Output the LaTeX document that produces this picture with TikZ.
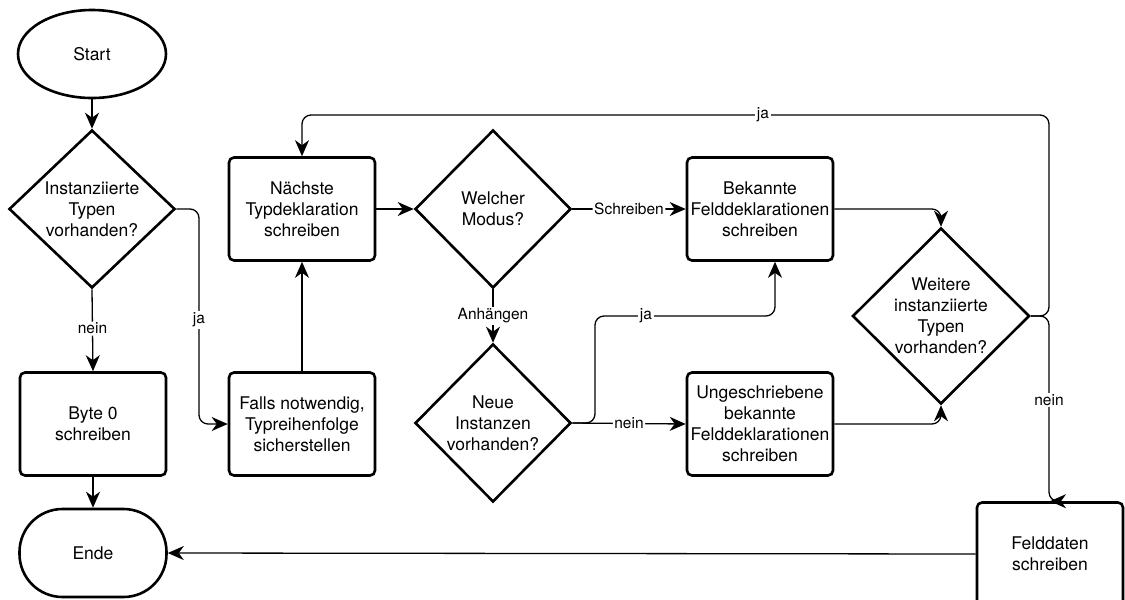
\documentclass[tikz,border=0pt]{standalone}
\usepackage{fontspec}
\setmainfont{TeX Gyre Heros}
\usetikzlibrary{shapes.geometric,arrows.meta}
\begin{document}
\begin{tikzpicture}[x=1pt,y=-1pt,
  base/.style={draw, line width=2.6pt, inner sep=1pt, align=center,
    font=\fontsize{17.5}{21}\selectfont},
  box/.style={base, rectangle, rounded corners=5pt, minimum width=146pt, minimum height=103pt},
  term/.style={base, ellipse, minimum width=148pt, minimum height=88pt, inner sep=0pt},
  stadium/.style={base, rectangle, rounded corners=43pt, minimum width=147pt, minimum height=88pt},
  dia/.style={draw, line width=2.6pt, diamond, inner sep=0pt},
  diatext/.style={align=center, font=\fontsize{17.5}{21}\selectfont, inner sep=0pt},
  conn/.style={line width=1.3pt, rounded corners=9pt, -{Stealth[length=16pt,width=14pt,inset=5pt]}},
  lab/.style={fill=white, inner sep=1.5pt, font=\fontsize{15.5}{18}\selectfont}
]
\useasboundingbox (0,0) rectangle (1125,600);

% nodes
\node[term] (start) at (92,54) {Start};
\node[dia, minimum width=166pt, minimum height=158pt,
  label={[diatext]center:Instanziierte\\Typen\\vorhanden?}] (d1) at (92,209) {};
\node[box] (byte) at (93,424) {Byte 0\\schreiben};
\node[stadium] (ende) at (93,553) {Ende};
\node[box] (falls) at (302,424) {Falls notwendig,\\Typreihenfolge\\sicherstellen};
\node[box] (next) at (302,209) {Nächste\\Typdeklaration\\schreiben};
\node[dia, minimum width=156pt, minimum height=158pt,
  label={[diatext]center:Welcher\\Modus?}] (wm) at (493,209) {};
\node[box] (bek) at (760,209) {Bekannte\\Felddeklarationen\\schreiben};
\node[dia, minimum width=156pt, minimum height=158pt,
  label={[diatext]center:Neue\\Instanzen\\vorhanden?}] (neue) at (493,423) {};
\node[box] (ung) at (760,424) {Ungeschriebene\\bekannte\\Felddeklarationen\\schreiben};
\node[dia, minimum width=177pt, minimum height=176pt,
  label={[diatext]center:Weitere\\instanziierte\\Typen\\vorhanden?}] (wt) at (941,316) {};
\node[box] (feld) at (1050,554) {Felddaten\\schreiben};

% bend coordinates
\coordinate (jA) at (199,0);
\coordinate (jB) at (595,316);
\coordinate (jC) at (775,316);
\coordinate (jD) at (1049,115);

% connectors
\draw[conn] (start) -- (d1.north);
\draw[conn] (d1.south) -- node[lab, pos=0.48] {nein} (byte.north);
\draw[conn] (byte.south) -- (ende.north);
\draw[conn] (d1.east) -- (d1.east -| jA) -- (jA |- falls.west) -- (falls.west);
\node[lab] (jaA) at (199,320) {ja};
\draw[conn] (falls.north) -- (next.south);
\draw[conn] (next.east) -- (wm.west);
\draw[conn] (wm.east) -- node[lab] {Schreiben} (bek.west);
\draw[conn] (wm.south) -- node[lab, pos=0.5] {Anhängen} (neue.north);
\draw[conn] (neue.east) -- node[lab] {nein} (ung.west);
\draw[conn] (neue.east) -- (neue.east -| jB) -- (jB) -- (jC) -- (jC |- bek.south);
\node[lab] (jaB) at (646,316) {ja};
\draw[conn] (bek.east) -- (bek.east -| wt.north) -- (wt.north);
\draw[conn] (ung.east) -- (ung.east -| wt.south) -- (wt.south);
\draw[conn] (wt.east) -- (wt.east -| jD) -- (jD) -- (jD -| next.north) -- (next.north);
\node[lab] (jaC) at (763,115) {ja};
\draw[conn] (wt.east) -- (wt.east -| jD) -- (jD |- feld.north) -- (feld.north);
\node[lab] (neinB) at (1049,400) {nein};
\draw[conn] (feld.west) -- (ende.east);
\end{tikzpicture}
\end{document}
